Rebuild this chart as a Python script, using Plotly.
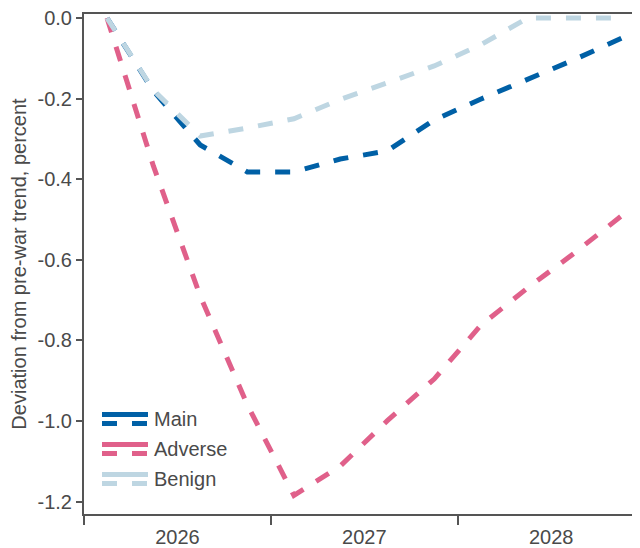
import pandas as pd
import plotly.graph_objects as go

# ---- data ----
quarters = ["2026Q1", "2026Q2", "2026Q3", "2026Q4",
            "2027Q1", "2027Q2", "2027Q3", "2027Q4",
            "2028Q1", "2028Q2", "2028Q3", "2028Q4"]
main = [0.0, -0.181, -0.315, -0.382, -0.382, -0.350, -0.330, -0.253, -0.201, -0.153, -0.103, -0.050]
adverse = [0.0, -0.367, -0.690, -0.960, -1.185, -1.112, -1.000, -0.896, -0.762, -0.670, -0.583, -0.491]
benign = [0.0, -0.179, -0.293, -0.273, -0.250, -0.202, -0.161, -0.119, -0.066, 0.0, 0.0, 0.0]
series_names = ["Main", "Adverse", "Benign"]
ytick_vals = [0.0, -0.2, -0.4, -0.6, -0.8, -1.0, -1.2]
ytick_text = ["0.0", "-0.2", "-0.4", "-0.6", "-0.8", "-1.0", "-1.2"]
y_title = "Deviation from pre-war trend, percent"

# ---- styling ----
colors = ["#0060A6", "#E0608A", "#BED6E2"]
FONT = "Liberation Sans, Arial, sans-serif"
TXT = "#4a4a4a"
AX = "#555555"
# page body has an 8px default margin, so the figure is 632x540 placed at (8,8)
OFF = 8
W, H = 632, 540
L, R, T, B = 84 - OFF, 0, 14 - OFF, 548 - 514

periods = pd.PeriodIndex(quarters, freq="Q")
xdates = [p.start_time + (p.end_time - p.start_time) / 2 for p in periods]

fig = go.Figure()
for name, vals, col in zip(series_names, [main, adverse, benign], colors):
    fig.add_trace(go.Scatter(x=xdates, y=vals, name=name, mode="lines",
                             line=dict(color=col, width=5, dash="dash"),
                             showlegend=False))

# helpers: page pixel -> paper coordinates
def px2x(px):
    return (px - OFF - L) / (W - L - R)

def py2y(py):
    return (H - B - (py - OFF)) / (H - T - B)

# manual legend: solid line over dashed line, then label
leg_rows = [419, 449, 479]
for name, col, yc in zip(series_names, colors, leg_rows):
    fig.add_shape(type="line", xref="paper", yref="paper",
                  x0=px2x(102), x1=px2x(148), y0=py2y(yc - 4.5), y1=py2y(yc - 4.5),
                  line=dict(color=col, width=5))
    fig.add_shape(type="line", xref="paper", yref="paper",
                  x0=px2x(102), x1=px2x(148), y0=py2y(yc + 4.5), y1=py2y(yc + 4.5),
                  line=dict(color=col, width=5, dash="dash"))
    fig.add_annotation(xref="paper", yref="paper", x=px2x(152), y=py2y(yc),
                       text=name, showarrow=False, xanchor="left", yanchor="middle",
                       font=dict(family=FONT, size=20, color=TXT))

fig.update_layout(
    width=W, height=H,
    margin=dict(l=L, r=R, t=T, b=B, autoexpand=False),
    paper_bgcolor="white", plot_bgcolor="white",
    font=dict(family=FONT, size=20, color=TXT),
    showlegend=False,
)
fig.update_xaxes(
    type="date", range=["2026-01-01", "2028-12-22"],
    tick0="2026-01-01", dtick="M12", tickformat="%Y", ticklabelmode="period",
    ticks="outside", ticklen=9, tickwidth=1.5, tickcolor=AX,
    ticklabelstandoff=-5, ticklabeloverflow="allow",
    showline=True, linecolor=AX, linewidth=2, mirror=True,
    showgrid=False, zeroline=False, automargin=False,
    tickfont=dict(family=FONT, size=20, color=TXT),
)
fig.update_yaxes(
    range=[-1.231, 0.01],
    tickvals=ytick_vals, ticktext=ytick_text, ticklabeloverflow="allow",
    ticks="outside", ticklen=6, tickwidth=1.5, tickcolor=AX,
    showline=True, linecolor=AX, linewidth=2, mirror=False,
    showgrid=False, zeroline=False, automargin=False,
    tickfont=dict(family=FONT, size=20, color=TXT),
    title=dict(text=y_title, font=dict(family=FONT, size=20, color=TXT), standoff=10),
)

fig.write_html("out.html")
